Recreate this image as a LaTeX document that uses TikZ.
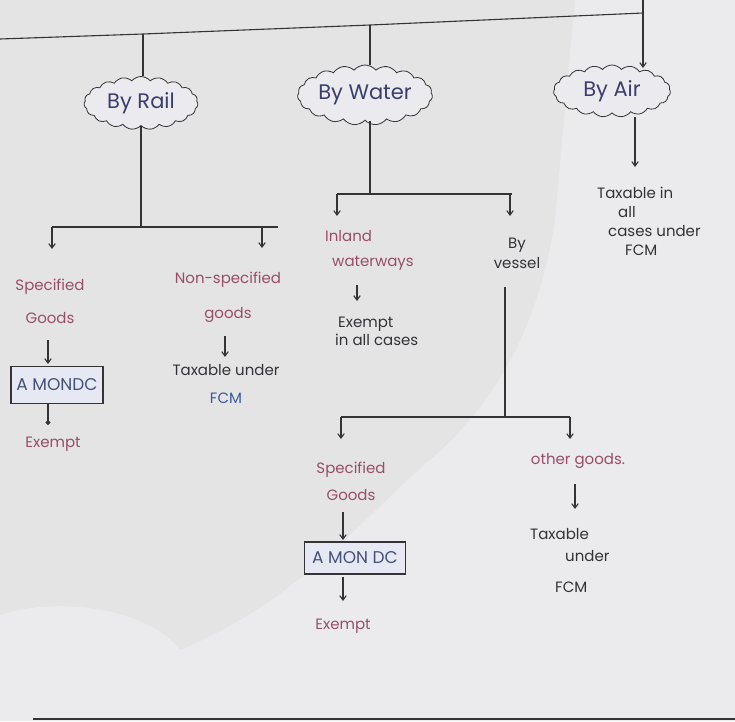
\documentclass[tikz,border=0pt]{standalone}
\usepackage{fontspec}
\setmainfont{Poppins}
\usetikzlibrary{shapes.symbols,arrows.meta}

\definecolor{paper}{HTML}{E4E4E5}
\definecolor{paperlight}{HTML}{EBEBED}
\definecolor{ink}{HTML}{343436}
\definecolor{cloudtext}{HTML}{3A3E6E}
\definecolor{cloudfill}{HTML}{EAEAEF}
\definecolor{pinktext}{HTML}{9C4D66}
\definecolor{darktext}{HTML}{333337}
\definecolor{bluetext}{HTML}{3B58A6}
\definecolor{boxtext}{HTML}{43507C}
\definecolor{boxfill}{HTML}{E6E9F3}

\begin{document}
\begin{tikzpicture}[x=1pt,y=-1pt,
  wire/.style={draw=ink,line width=1.1pt},
  arr/.style={wire,-{Straight Barb[length=4.5pt,width=6.5pt]}},
  dotarr/.style={wire,-{Circle[length=5pt]}},
  puff/.style={cloud,cloud puffs=19,cloud puff arc=100,cloud ignores aspect,
    draw=ink,line width=0.8pt,fill=cloudfill,inner sep=0pt,
    text=cloudtext,font=\fontsize{21}{26}\selectfont},
  hand/.style={inner sep=0pt,font=\fontsize{15}{18}\selectfont},
  pinkt/.style={hand,text=pinktext},
  darkt/.style={hand,text=darktext},
  framed/.style={draw=ink,line width=1.2pt,fill=boxfill,text=boxtext,
    font=\fontsize{17}{20}\selectfont,inner sep=0pt}
]
% paper
\useasboundingbox (0,0) rectangle (735,721);
\fill[paper] (0,0) rectangle (735,721);
\fill[paperlight] (575,0) -- (735,0) -- (735,721) -- (0,721) -- (0,615)
  .. controls (60,595) and (150,610) .. (180,650)
  .. controls (300,600) and (360,520) .. (430,460)
  .. controls (500,400) and (540,320) .. (555,220) -- (575,0);

% top rail of the tree
\coordinate (t0) at (0,39);
\coordinate (tR) at (143,34);
\coordinate (tW) at (370,25);
\coordinate (tA) at (643,13);
\coordinate (tTop) at (643,0);
\coordinate (aIn) at (643,68);
\draw[wire] (t0) -- (tR) -- (tW) -- (tA);

% the three modes
\node[puff,minimum width=114pt,minimum height=53pt] (rail) at (141,103) {\makebox[0pt]{By Rail}};
\node[puff,minimum width=135pt,minimum height=60pt] (water) at (365,95) {\makebox[0pt]{By Water}};
\node[puff,minimum width=117pt,minimum height=52pt] (air) at (612,91) {\makebox[0pt]{By Air}};

\draw[wire] (tR) -- (tR |- rail.north);
\draw[wire] (tW) -- (tW |- water.north);
\draw[arr] (tTop) -- (aIn);

% ---------- by rail ----------
\coordinate (rJ) at (141,227);
\coordinate (rL) at (52,227);
\coordinate (rR) at (262,227);
\coordinate (rE) at (278,227);
\coordinate (rLa) at (52,249);
\coordinate (rRa) at (262,248);
\draw[wire] (rJ |- rail.south) -- (rJ);
\draw[wire] (rL) -- (rE);
\draw[arr] (rL) -- (rLa);
\draw[arr] (rR) -- (rRa);

\node[pinkt,align=center,font=\fontsize{15}{33}\selectfont] (spec1) at (50,301) {Specified\\Goods};
\node[framed,minimum width=92pt,minimum height=37pt] (box1) at (57,385) {A MONDC};
\node[pinkt] (ex1) at (53,444) {Exempt};
\draw[arr] (48,340) coordinate (s1b) -- (48,364) coordinate (b1t);
\draw[dotarr] (48,404) coordinate (b1b) -- (48,425) coordinate (e1t);

\node[pinkt,align=center,font=\fontsize{15}{35}\selectfont] (nspec) at (228,297) {Non-specified\\goods};
\node[darkt,align=center,font=\fontsize{15}{28}\selectfont] (tax1) at (226,384) {Taxable under\\\textcolor{bluetext}{FCM}\hspace{26pt}};
\draw[arr] (225,336) coordinate (n1b) -- (225,357) coordinate (t1t);

% ---------- by water ----------
\coordinate (wJ) at (370,194);
\coordinate (wL) at (337,194);
\coordinate (wR) at (510,194);
\coordinate (wE) at (512,194);
\coordinate (wLa) at (337,216);
\coordinate (wRa) at (510,216);
\draw[wire] (wJ |- water.south) -- (wJ);
\draw[wire] (wL) -- (wE);
\draw[arr] (wL) -- (wLa);
\draw[arr] (wR) -- (wRa);

\node[pinkt,align=left,anchor=west,font=\fontsize{15}{25}\selectfont] (inland) at (325,250) {Inland\\\hspace{7pt}waterways};
\node[darkt,align=left,anchor=west,font=\fontsize{15}{18}\selectfont] (exall) at (335,331) {\hspace{3pt}Exempt\\in all cases};
\draw[arr] (357,285) coordinate (i1b) -- (357,301) coordinate (x1t);

\node[darkt,align=center,font=\fontsize{15}{20}\selectfont] (vessel) at (517,253) {By\\vessel};
\coordinate (vJ) at (505,417);
\coordinate (vL) at (341,417);
\coordinate (vR) at (570,417);
\coordinate (vLa) at (341,439);
\coordinate (vRa) at (570,439);
\draw[wire] (505,287) coordinate (v1b) -- (vJ);
\draw[wire] (vL) -- (vR);
\draw[arr] (vL) -- (vLa);
\draw[arr] (vR) -- (vRa);

\node[pinkt,align=center,font=\fontsize{15}{27}\selectfont] (spec2) at (351,481) {Specified\\Goods};
\node[framed,minimum width=101pt,minimum height=32pt] (box2) at (355,558) {A MON DC};
\node[pinkt] (ex2) at (343,626) {Exempt};
\draw[arr] (343,512) coordinate (s2b) -- (343,540) coordinate (b2t);
\draw[arr] (343,577) coordinate (b2b) -- (343,601) coordinate (e2t);

\node[pinkt] (other) at (578,461) {other goods.};
\node[darkt,align=left,anchor=west,font=\fontsize{15}{22}\selectfont] (tax2) at (530,560) {Taxable\\\hspace{35pt}under\\[9pt]\hspace{25pt}FCM};
\draw[arr] (575,484) coordinate (o1b) -- (575,509) coordinate (t2t);

% ---------- by air ----------
\coordinate (aOut) at (635,117);
\coordinate (aOa) at (635,167);
\draw[arr] (aOut) -- (aOa);
\node[darkt,align=left,anchor=west,font=\fontsize{15}{19}\selectfont] (airtax) at (597,221) {Taxable in\\\hspace{21pt}all\\\hspace{11pt}cases under\\\hspace{28pt}FCM};

% rule along the foot of the page
\coordinate (f0) at (33,719);
\coordinate (f1) at (735,719);
\draw[ink,line width=1.4pt] (f0) -- (f1);
\end{tikzpicture}
\end{document}
